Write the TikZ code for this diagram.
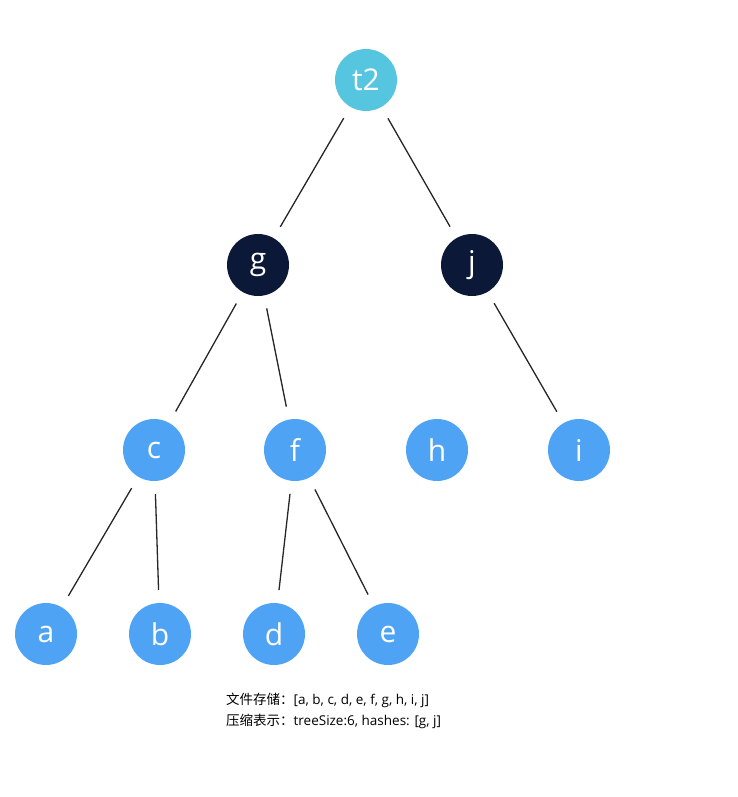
\documentclass[tikz,border=0pt]{standalone}
\usepackage{fontspec}
\setmainfont{Open Sans}
\newfontfamily\cjk{Noto Sans CJK SC}
\usetikzlibrary{positioning}
\definecolor{rootcol}{HTML}{56C5E0}
\definecolor{darkcol}{HTML}{0B1838}
\definecolor{leafcol}{HTML}{4FA3F4}
\tikzset{
  tnode/.style={circle, minimum size=62pt, inner sep=0pt, text=white, font=\fontsize{30}{30}\selectfont},
  root/.style={tnode, fill=rootcol},
  hashed/.style={tnode, fill=darkcol},
  leaf/.style={tnode, fill=leafcol},
  edge/.style={draw=black!85, line width=1.3pt, shorten >=13pt, shorten <=13pt}
}
\begin{document}
\begin{tikzpicture}[x=1pt, y=-1pt]
  \useasboundingbox (0,0) rectangle (737,797);
  % nodes
  \node [root] (t2) at (366,80) {t2};
  \node [hashed] (g) at (258,265) {g};
  \node [hashed] (j) at (472,265) {j};
  \node [leaf] (c) at (154,450) {c};
  \node [leaf] (f) at (295,450) {f};
  \node [leaf] (h) at (437,450) {h};
  \node [leaf] (i) at (579,450) {i};
  \node [leaf] (a) at (46,634) {a};
  \node [leaf] (b) at (160,634) {b};
  \node [leaf] (d) at (274,634) {d};
  \node [leaf] (e) at (388,634) {e};
  % edges
  \draw [edge] (t2) -- (g);
  \draw [edge] (t2) -- (j);
  \draw [edge] (g) -- (c);
  \draw [edge] (g) -- (f);
  \draw [edge] (j) -- (i);
  \draw [edge] (c) -- (a);
  \draw [edge] (c) -- (b);
  \draw [edge] (f) -- (d);
  \draw [edge] (f) -- (e);
  % caption
  \node [anchor=west, align=left, font=\fontsize{13.5}{21}\selectfont, inner sep=0pt] (caption) at (226,711)
    {{\cjk 文件存储：}[a, b, c, d, e, f, g, h, i, j]\\{\cjk 压缩表示：}treeSize:6, hashes: [g, j]};
\end{tikzpicture}
\end{document}
